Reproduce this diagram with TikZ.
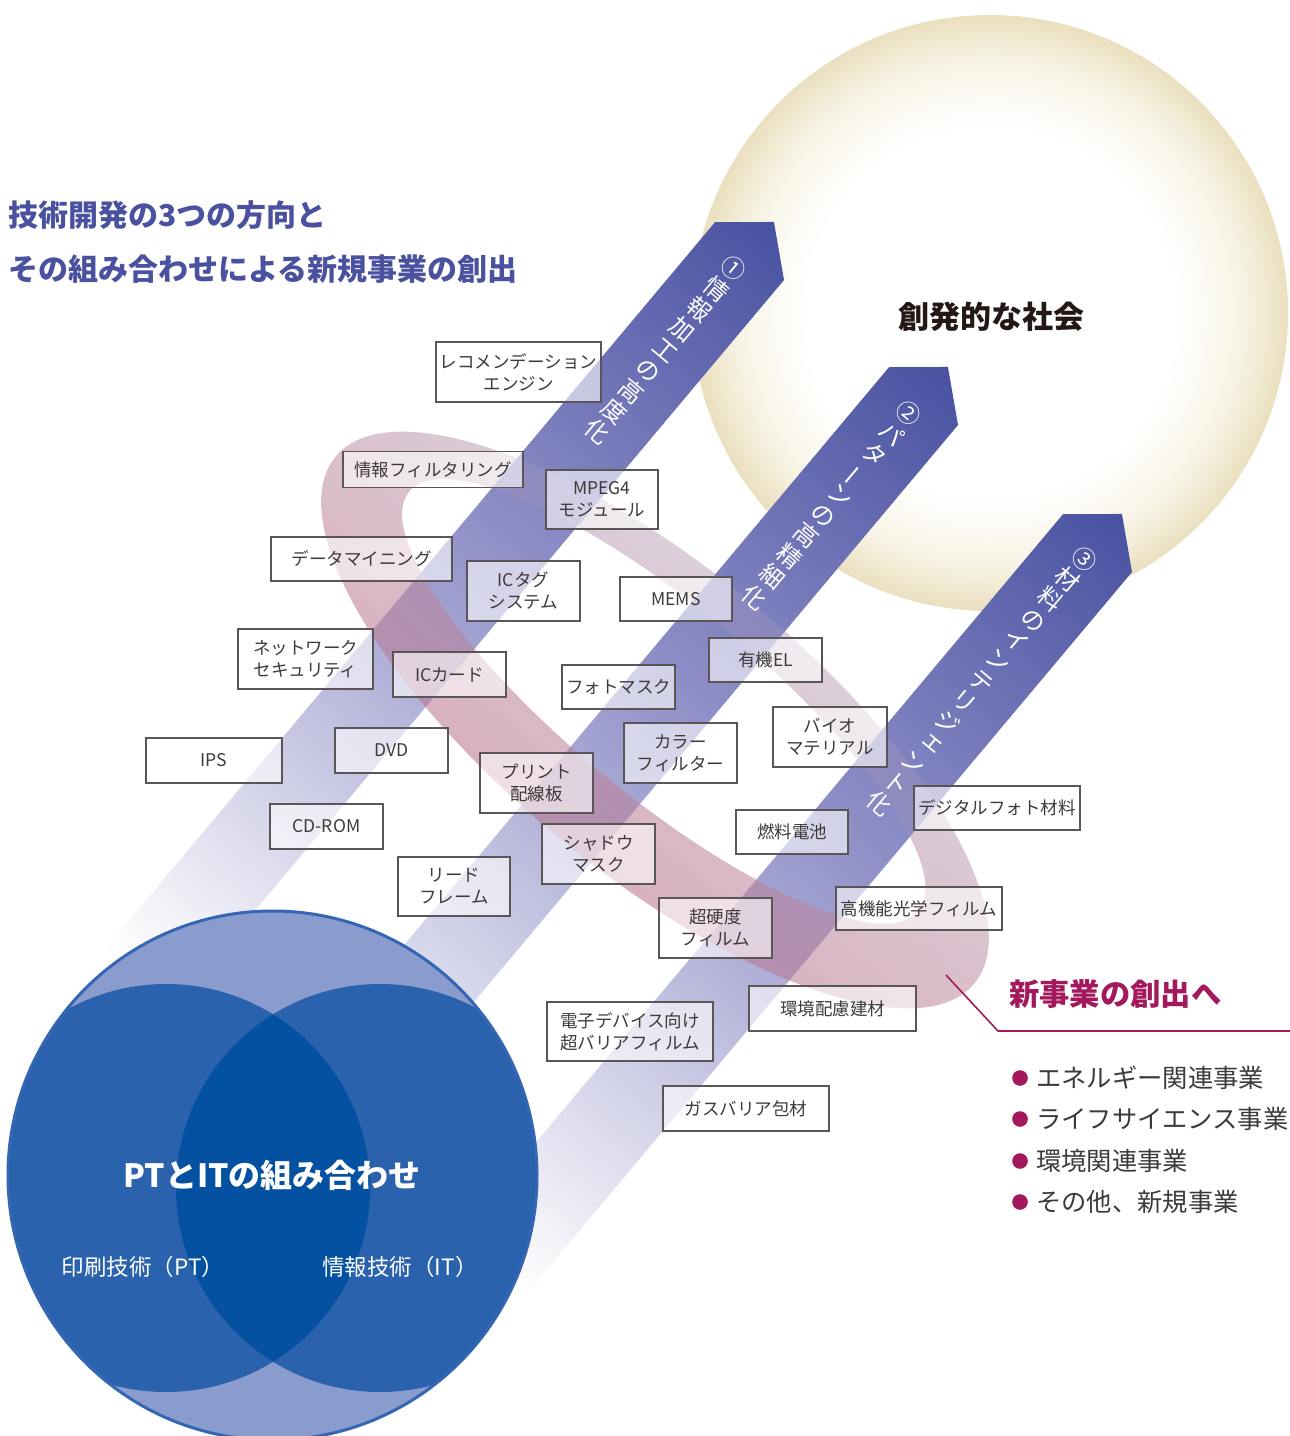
\documentclass[tikz,border=0pt]{standalone}
\usepackage{fontspec}
\usepackage{graphicx}
\newfontfamily\jp{Noto Sans CJK JP}
\definecolor{titleblue}{HTML}{4A52A0}
\definecolor{boxline}{HTML}{5A5556}
\definecolor{boxtext}{HTML}{3E3A39}
\definecolor{newbiz}{HTML}{A3195B}
\definecolor{banddark}{HTML}{4852A1}
\definecolor{bandmid}{HTML}{9292C9}
\definecolor{bandpale}{HTML}{F4F4F9}
\definecolor{sunedge}{HTML}{EAE0BF}
\definecolor{sunmid}{HTML}{F8F4E6}
\definecolor{ringfront}{HTML}{BA7088}
\definecolor{ringback}{HTML}{BFAABF}
\definecolor{vennout}{HTML}{8A9CCE}
\definecolor{vennin}{HTML}{2B62AE}
\definecolor{vennmid}{HTML}{0451A1}
\definecolor{vennedge}{HTML}{3466B4}
\definecolor{darktext}{HTML}{231815}
\pgfdeclarehorizontalshading{bandsh}{100bp}{color(0bp)=(white); color(25bp)=(white); color(28bp)=(bandpale); color(53bp)=(bandmid); color(75bp)=(banddark); color(100bp)=(banddark)}
\pgfdeclareverticalshading{ringsh}{100bp}{color(0bp)=(ringfront); color(25bp)=(ringfront); color(75bp)=(ringback); color(100bp)=(ringback)}
\pgfdeclareradialshading{sunsh}{\pgfpoint{0bp}{0bp}}{color(0bp)=(white); color(15.5bp)=(white); color(21bp)=(sunmid); color(25bp)=(sunedge); color(50bp)=(sunedge)}
\tikzset{
  tbox/.style={draw=boxline, line width=1.1pt, fill=white, fill opacity=0.6, text opacity=1,
    text=boxtext, inner sep=0pt, align=center, font=\jp\fontsize{17.5}{22}\selectfont},
  bandlbl/.style={text=white, inner sep=0pt, align=center, rotate=-40,
    font=\jp\fontsize{24}{26.6}\selectfont},
  bullettext/.style={anchor=west, inner sep=0pt, text=boxtext, font=\jp\fontsize{25.3}{25.3}\selectfont},
  bulletdot/.style={fill=newbiz},
  ringshape/.style={shading=ringsh, even odd rule, fill opacity=0.55},
}
\newcommand{\chouon}{\rotatebox[origin=c]{90}{ー}}
\newcommand{\smallkana}[1]{\hspace*{0.22em}\raisebox{0.12em}{#1}}
\newcommand{\ringpath}{(0,0) ellipse [x radius=414, y radius=152] (-5,20) ellipse [x radius=330, y radius=95]}
\newcommand{\ringback}[1]{%
  \begin{scope}[x=1pt,y=1pt,transform canvas={shift={(655pt,-720pt)},rotate=-39.5}]
    \begin{scope}
      \clip (-500,0) rectangle (500,300);
      \shade[ringshape, fill opacity=#1] \ringpath;
    \end{scope}
  \end{scope}}
\begin{document}
\begin{tikzpicture}[x=1pt,y=-1pt]
\useasboundingbox (0,0) rectangle (1290,1436);
\fill[white] (0,0) rectangle (1290,1436);
% sun circle
\shade[shading=sunsh] (990,313) circle (298);
\node[font=\jp\bfseries\fontsize{31}{31}\selectfont, text=darktext, inner sep=0pt] (society) at (991,317) {創発的な社会};
% ring, back half (under the bands)
\ringback{0.44}
% bands
\foreach \px/\py in {784/280, 958/425, 1132/572} {
  \begin{scope}[x=1pt,y=1pt,transform canvas={shift={(\px pt,-\py pt)},rotate=50}]
    \shade[shading=bandsh] (-950,0) -- (0,0) -- (38,45) -- (0,90) -- (-950,90) -- cycle;
  \end{scope}
}
% ring, back half, faint trace over the bands
\ringback{0.2}
\node[bandlbl] (lab1) at (665.6,350) {①\\情\\報\\加\\工\\の\\高\\度\\化};
\node[bandlbl] (lab2) at (832,505) {②\\パ\\タ\\\chouon\\ン\\の\\高\\精\\細\\化};
\node[bandlbl] (lab3) at (982,681) {③\\材\\料\\の\\イ\\ン\\テ\\リ\\ジ\\\smallkana{ェ}\\ン\\ト\\化};
% ring, front half
\begin{scope}[x=1pt,y=1pt,transform canvas={shift={(655pt,-720pt)},rotate=-39.5}]
  \begin{scope}
    \clip (-500,-300) rectangle (500,0);
    \shade[ringshape] \ringpath;
  \end{scope}
\end{scope}
% Venn circle
\begin{scope}
  \clip (272.5,1175.5) circle (264.5);
  \fill[vennout] (272.5,1175.5) circle (264.5);
  \fill[vennin] (166,1188) circle (204);
  \fill[vennin] (380,1188) circle (204);
  \begin{scope}
    \clip (166,1188) circle (204);
    \fill[vennmid] (380,1188) circle (204);
  \end{scope}
\end{scope}
\draw[vennedge, line width=3pt] (272.5,1175.5) circle (264.5);
\node[font=\jp\bfseries\fontsize{32}{32}\selectfont, text=white, inner sep=0pt] (combo) at (272,1175) {PTとITの組み合わせ};
\node[font=\jp\fontsize{22.5}{22.5}\selectfont, text=white, inner sep=0pt] (pt) at (143,1267) {印刷技術（PT）};
\node[font=\jp\fontsize{22.5}{22.5}\selectfont, text=white, inner sep=0pt] (it) at (400,1267) {情報技術（IT）};
% boxes
\node[tbox, minimum width=165, minimum height=60] (reco) at (518.5,372) {レコメンデーション\\エンジン};
\node[tbox, minimum width=180, minimum height=36] (filt) at (433,469.5) {情報フィルタリング};
\node[tbox, minimum width=112, minimum height=59] (mpeg) at (602,499.5) {MPEG4\\モジュール};
\node[tbox, minimum width=181, minimum height=44] (dmin) at (361.5,559) {データマイニング};
\node[tbox, minimum width=113, minimum height=60] (ictag) at (523.5,591) {ICタグ\\システム};
\node[tbox, minimum width=112, minimum height=44] (mems) at (676,599) {MEMS};
\node[tbox, minimum width=135, minimum height=60] (netsec) at (305.5,659) {ネットワーク\\セキュリティ};
\node[tbox, minimum width=113, minimum height=45] (iccard) at (449.5,674.5) {ICカード};
\node[tbox, minimum width=113, minimum height=44] (photo) at (618.5,687) {フォトマスク};
\node[tbox, minimum width=113, minimum height=44] (oel) at (765.5,660) {有機EL};
\node[tbox, minimum width=136, minimum height=45] (ips) at (214,760.5) {IPS};
\node[tbox, minimum width=113, minimum height=45] (dvd) at (391.5,750.5) {DVD};
\node[tbox, minimum width=113, minimum height=60] (pcb) at (536.5,783) {プリント\\配線板};
\node[tbox, minimum width=113, minimum height=60] (cfilter) at (680.5,753) {カラー\\フィルター};
\node[tbox, minimum width=114, minimum height=60] (bio) at (830,737) {バイオ\\マテリアル};
\node[tbox, minimum width=113, minimum height=45] (cdrom) at (326.5,826.5) {CD-ROM};
\node[tbox, minimum width=113, minimum height=60] (shadow) at (598.5,854) {シャドウ\\マスク};
\node[tbox, minimum width=112, minimum height=44] (fuel) at (792,832) {燃料電池};
\node[tbox, minimum width=166, minimum height=44] (digi) at (997,808) {デジタルフォト材料};
\node[tbox, minimum width=112, minimum height=59] (lead) at (454,886.5) {リード\\フレーム};
\node[tbox, minimum width=113, minimum height=60] (hard) at (715.5,928) {超硬度\\フィルム};
\node[tbox, minimum width=166, minimum height=43] (optf) at (919,908.5) {高機能光学フィルム};
\node[tbox, minimum width=167, minimum height=45] (env) at (832.5,1008.5) {環境配慮建材};
\node[tbox, minimum width=166, minimum height=59] (edev) at (630,1031.5) {電子デバイス向け\\超バリアフィルム};
\node[tbox, minimum width=166, minimum height=45] (gas) at (746,1108.5) {ガスバリア包材};
% title
\node[anchor=west, inner sep=0pt, text=titleblue, font=\jp\bfseries\fontsize{30}{30}\selectfont] (title1) at (8,215) {技術開発の3つの方向と};
\node[anchor=west, inner sep=0pt, text=titleblue, font=\jp\bfseries\fontsize{30}{30}\selectfont] (title2) at (8,269) {その組み合わせによる新規事業の創出};
% new business
\node[anchor=west, inner sep=0pt, text=newbiz, font=\jp\bfseries\fontsize{30.3}{30.3}\selectfont] (newb) at (1009,994) {新事業の創出へ};
\coordinate (ringtail) at (946,975);
\coordinate (bend) at (998,1031);
\coordinate (ruleend) at (1290,1031);
\draw[newbiz, line width=1.6pt] (ringtail) -- (bend) -- (ruleend);
\fill[bulletdot] (1020,1078) circle (7.8);
\fill[bulletdot] (1020,1119) circle (7.8);
\fill[bulletdot] (1020,1161) circle (7.8);
\fill[bulletdot] (1020,1202) circle (7.8);
\node[bullettext] (b1) at (1036,1078) {エネルギー関連事業};
\node[bullettext] (b2) at (1036,1119) {ライフサイエンス事業};
\node[bullettext] (b3) at (1036,1161) {環境関連事業};
\node[bullettext] (b4) at (1036,1202) {その他、新規事業};
\end{tikzpicture}
\end{document}
